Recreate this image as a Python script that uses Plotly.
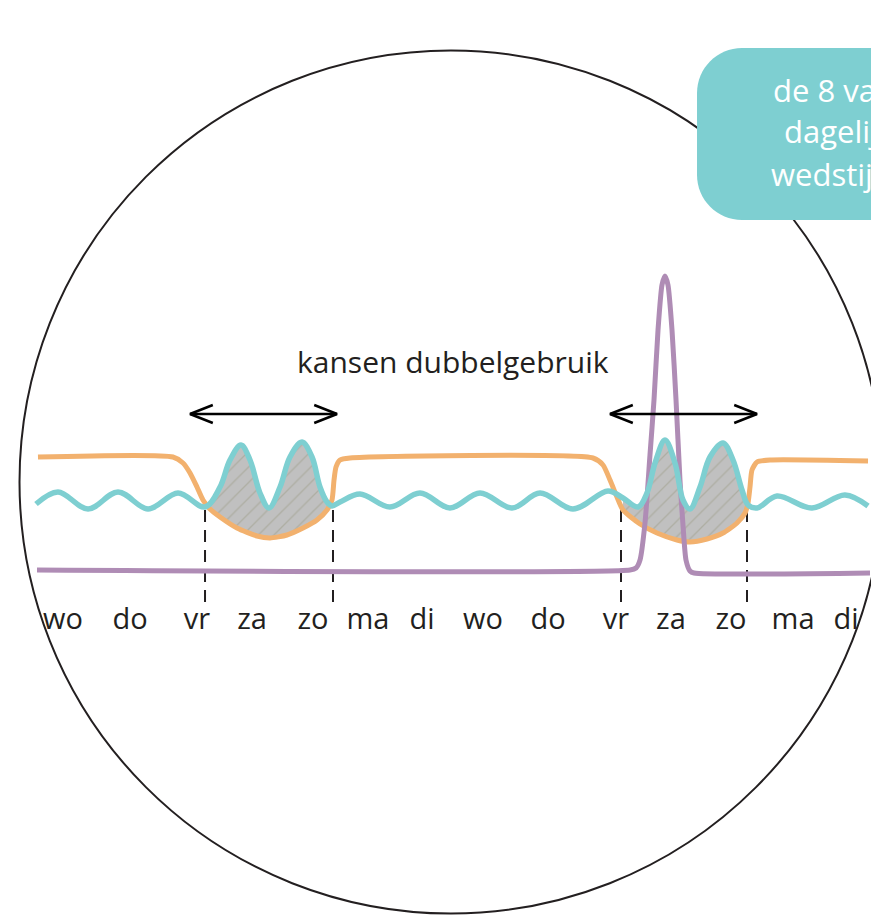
import numpy as np
import plotly.graph_objects as go

# ---------------- data (x in days, y in arbitrary "level" units) ----------------
day_labels = ["wo", "do", "vr", "za", "zo", "ma", "di", "wo", "do", "vr", "za", "zo", "ma", "di"]
day_pos = [0.05, 1.167, 2.283, 3.2, 4.217, 5.133, 6.033, 7.05, 8.133, 9.267, 10.183, 11.183, 12.217, 13.1]

# orange curve
orange_x = [-0.367, 1.883, 2.05, 2.167, 2.283, 2.383, 2.5, 2.667, 2.95, 3.283, 3.5, 3.783, 4.05, 4.283,
            4.45, 4.533, 4.567, 4.6, 4.667, 4.833, 8.883, 9.05, 9.167, 9.283, 9.383, 9.667, 9.95, 10.283,
            10.5, 10.783, 11.05, 11.283, 11.417, 11.467, 11.5, 11.533, 11.617, 11.833, 13.467]
orange_y = [11.3, 11.3, 10.7, 9.7, 8.3, 7.0, 6.1, 5.3, 4.2, 3.4, 3.2, 3.5, 4.2, 5.0,
            6.0, 7.0, 9.0, 10.3, 11.0, 11.2, 11.2, 10.5, 9.0, 7.3, 6.0, 4.6, 3.7, 3.0,
            2.8, 3.1, 3.7, 4.7, 5.7, 6.7, 8.3, 10.0, 10.8, 11.0, 10.9]

# teal curve
teal_x = [-0.4, -0.033, 0.467, 0.967, 1.467, 1.967, 2.417, 2.667, 2.833, 3.017, 3.167, 3.333, 3.483,
          3.667, 3.833, 4.033, 4.2, 4.333, 4.45, 4.533, 4.667, 5.0, 5.5, 6.0, 6.5, 7.0, 7.533, 8.0,
          8.55, 9.133, 9.383, 9.633, 9.783, 9.917, 10.083, 10.25, 10.383, 10.5, 10.667, 10.833, 11.05,
          11.217, 11.367, 11.467, 11.617, 11.95, 12.533, 13.083, 13.467]
teal_y = [6.6, 7.8, 6.1, 7.8, 6.1, 7.7, 6.3, 8.3, 11.0, 12.5, 11.0, 7.7, 6.2,
          8.3, 11.3, 12.8, 11.3, 8.3, 6.8, 6.4, 6.8, 7.6, 6.3, 7.7, 6.2, 7.7, 6.2, 7.7,
          6.1, 7.9, 7.2, 6.3, 7.7, 10.7, 13.0, 10.7, 7.0, 6.1, 8.3, 11.3, 12.7,
          11.0, 8.0, 6.5, 6.2, 7.4, 6.2, 7.5, 6.4]

# purple curve
purple_x = [-0.383, 9.5, 9.6, 9.667, 9.75, 9.833, 9.9, 9.967, 10.033, 10.083, 10.133, 10.2, 10.267,
            10.333, 10.383, 10.433, 10.5, 10.567, 13.5]
purple_y = [0.0, 0.0, 0.2, 1.0, 4.7, 11.5, 17.0, 24.0, 28.5, 29.4, 28.5, 24.0, 17.0,
            9.0, 4.5, 1.0, -0.1, -0.3, -0.3]

# weekend windows (hatched overlap) and dashed markers
fill_windows = [(2.41, 4.54), (9.35, 11.47)]
dash_x = [2.417, 4.55, 9.35, 11.45]
dash_top, dash_bottom = 6.0, -3.2

# double arrows
arrow_starts = [2.167, 9.167]
arrow_ends = [4.617, 11.617]
arrow_level = 15.6

title_text = "kansen dubbelgebruik"
box_lines = ["de 8 vaste", "dagelijkse", "wedstijden"]

# ---------------- styling ----------------
ORANGE = "#F2B16E"
TEAL = "#7ECFD1"
PURPLE = "#AF8CB5"
INK = "#231F20"
FONT = "Open Sans"

X_RANGE = [-1.0, 13.5167]
Y_RANGE = [-34.7, 57.0]

fig = go.Figure()

# hatched overlap areas
tx, ty = np.array(teal_x), np.array(teal_y)
ox, oy = np.array(orange_x), np.array(orange_y)
for a, b in fill_windows:
    mt = (tx >= a) & (tx <= b)
    mo = (ox >= a) & (ox <= b)
    px = list(tx[mt]) + list(ox[mo][::-1])
    py = list(ty[mt]) + list(oy[mo][::-1])
    fig.add_trace(go.Scatter(
        x=px, y=py, mode="lines", fill="toself",
        line=dict(width=0, shape="spline", smoothing=0.8),
        fillcolor="#C0C0C0",
        fillpattern=dict(shape="/", bgcolor="#C0C0C0", fgcolor="#9C9C86", size=11, solidity=0.12),
        hoverinfo="skip", showlegend=False))

# dashed markers
dxs, dys = [], []
for x in dash_x:
    dxs += [x, x, None]
    dys += [dash_top, dash_bottom, None]
fig.add_trace(go.Scatter(x=dxs, y=dys, mode="lines",
                         line=dict(color=INK, width=2, dash="12px,8px"),
                         hoverinfo="skip", showlegend=False))

fig.add_trace(go.Scatter(x=orange_x, y=orange_y, mode="lines",
                         line=dict(color=ORANGE, width=5, shape="spline", smoothing=0.6),
                         hoverinfo="skip", showlegend=False))
fig.add_trace(go.Scatter(x=purple_x, y=purple_y, mode="lines",
                         line=dict(color=PURPLE, width=5, shape="spline", smoothing=0.6),
                         hoverinfo="skip", showlegend=False))
fig.add_trace(go.Scatter(x=teal_x, y=teal_y, mode="lines",
                         line=dict(color=TEAL, width=5.5, shape="spline", smoothing=1.0),
                         hoverinfo="skip", showlegend=False))

# arrows
hl, hh = 0.38, 0.9
axs, ays = [], []
for x0, x1 in zip(arrow_starts, arrow_ends):
    y = arrow_level
    axs += [x0 + hl, x0, x0 + hl, None, x0, x1, None, x1 - hl, x1, x1 - hl, None]
    ays += [y + hh, y, y - hh, None, y, y, None, y + hh, y, y - hh, None]
fig.add_trace(go.Scatter(x=axs, y=ays, mode="lines",
                         line=dict(color="black", width=2.5),
                         hoverinfo="skip", showlegend=False))

# circle
cx0, cx1 = -0.675, 13.708
cy0, cy1 = -34.35, 51.95
shapes = [dict(type="circle", xref="x", yref="y", x0=cx0, x1=cx1, y0=cy0, y1=cy1,
               line=dict(color=INK, width=2), layer="below")]

# rounded teal box
bx0, bx1, bt, bb = 10.617, 16.0, 52.2, 35.0
rx, ry, k = 0.75, 4.5, 0.5523
path = (f"M {bx0+rx},{bt} L {bx1},{bt} L {bx1},{bb} L {bx0+rx},{bb} "
        f"C {bx0+rx-k*rx},{bb} {bx0},{bb+ry-k*ry} {bx0},{bb+ry} "
        f"L {bx0},{bt-ry} "
        f"C {bx0},{bt-ry+k*ry} {bx0+rx-k*rx},{bt} {bx0+rx},{bt} Z")
shapes.append(dict(type="path", xref="x", yref="y", path=path,
                   fillcolor=TEAL, line=dict(width=0), layer="above"))

annotations = [dict(x=6.55, y=20.9, xref="x", yref="y", text=title_text, showarrow=False,
                    xanchor="center", yanchor="middle", font=dict(family=FONT, size=30, color=INK))]
for txt, x, y in zip(box_lines, [11.85, 12.03, 11.815], [48.0, 43.9, 39.6]):
    annotations.append(dict(x=x, y=y, xref="x", yref="y", text=txt, showarrow=False,
                            xanchor="left", yanchor="middle",
                            font=dict(family=FONT, size=31, color="white")))

fig.update_layout(
    width=871, height=917, margin=dict(l=0, r=0, t=0, b=0),
    paper_bgcolor="white", plot_bgcolor="white",
    shapes=shapes, annotations=annotations, showlegend=False,
    xaxis=dict(range=X_RANGE, showgrid=False, zeroline=False, showline=False,
               tickmode="array", tickvals=day_pos, ticktext=day_labels, ticks="",
               anchor="free", position=1 - 599 / 917,
               tickfont=dict(family=FONT, size=29, color=INK), fixedrange=True),
    yaxis=dict(range=Y_RANGE, visible=False, fixedrange=True),
)

fig.write_html("out.html", config={"displayModeBar": False},
               post_script="document.body.style.margin='0';document.body.style.overflow='hidden';")
